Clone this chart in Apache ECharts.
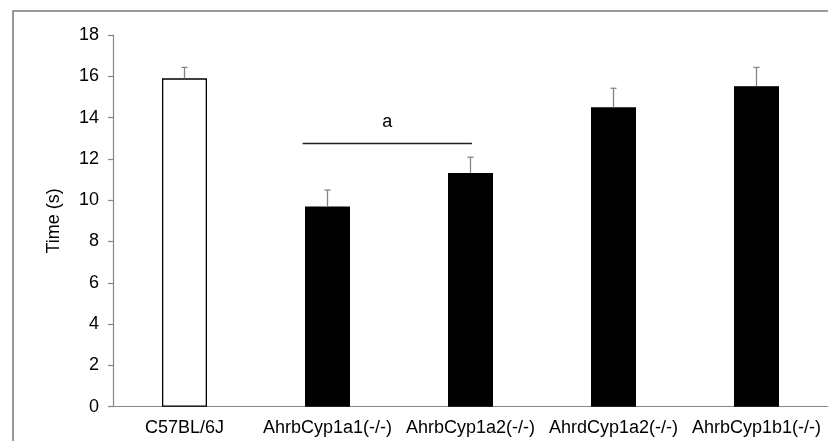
<!DOCTYPE html>
<html>
<head>
<meta charset="utf-8">
<script src="https://cdn.jsdelivr.net/npm/echarts@6/dist/echarts.min.js"></script>
<style>html,body{margin:0;padding:0;background:#fff;}#c{width:828px;height:441px;}</style>
</head>
<body>
<div id="c"></div>
<script>
const categories = ['C57BL/6J', 'AhrbCyp1a1(-/-)', 'AhrbCyp1a2(-/-)', 'AhrdCyp1a2(-/-)', 'AhrbCyp1b1(-/-)'];
const means = [15.9, 9.69, 11.32, 14.5, 15.52];
const errors = [0.53, 0.8, 0.76, 0.92, 0.91];
const barFill = ['#ffffff', '#000000', '#000000', '#000000', '#000000'];
const yTicks = [0, 2, 4, 6, 8, 10, 12, 14, 16, 18];
const annotations = [[1, 2, 12.75, 'a']];

const chart = echarts.init(document.getElementById('c'), null, {renderer: 'canvas'});
const FONT = 'Liberation Sans, Arial, sans-serif';
const AXIS = '#878787';

chart.setOption({
  animation: false,
  backgroundColor: '#fff',
  graphic: [{
    type: 'rect', z: -1,
    shape: {x: 13, y: 11, width: 1000, height: 600},
    style: {fill: 'none', stroke: '#7a7a7a', lineWidth: 1.5}
  }],
  grid: {left: 113, top: 35, width: 722.5, height: 371.7, containLabel: false},
  xAxis: {
    type: 'category',
    data: categories,
    axisLine: {lineStyle: {color: AXIS, width: 1.2}},
    axisTick: {show: false},
    axisLabel: {color: '#000', fontSize: 18, fontFamily: FONT, margin: 12, interval: 0}
  },
  yAxis: {
    type: 'value',
    min: yTicks[0], max: yTicks[yTicks.length - 1], interval: 2,
    name: 'Time (s)',
    nameLocation: 'middle',
    nameGap: 50,
    nameTextStyle: {color: '#000', fontSize: 18, fontFamily: FONT},
    axisLine: {show: true, lineStyle: {color: AXIS, width: 1.2}},
    axisTick: {show: true, length: 5, lineStyle: {color: AXIS, width: 1.2}},
    axisLabel: {color: '#000', fontSize: 18, fontFamily: FONT, margin: 14},
    splitLine: {show: false}
  },
  series: [
    {
      type: 'bar',
      barWidth: 45,
      data: means.map((v, i) => ({
        value: v,
        itemStyle: {color: barFill[i], borderColor: '#000', borderWidth: 1.3}
      })),
      z: 2
    },
    {
      type: 'custom',
      z: 3,
      data: means.map((v, i) => [i, v, v + errors[i]]),
      renderItem: function (params, api) {
        const x = api.coord([api.value(0), api.value(1)])[0];
        const y0 = api.coord([api.value(0), api.value(1)])[1];
        const y1 = api.coord([api.value(0), api.value(2)])[1];
        const st = {stroke: '#858585', lineWidth: 1.3};
        return {
          type: 'group',
          children: [
            {type: 'line', shape: {x1: x, y1: y0, x2: x, y2: y1}, style: st},
            {type: 'line', shape: {x1: x - 3, y1: y1, x2: x + 3, y2: y1}, style: st}
          ]
        };
      }
    },
    {
      type: 'custom',
      z: 4,
      data: annotations,
      renderItem: function (params, api) {
        const band = api.size([1, 0])[0];
        const y = api.coord([api.value(0), api.value(2)])[1];
        const xa = api.coord([api.value(0), api.value(2)])[0] - 0.174 * band;
        const xb = api.coord([api.value(1), api.value(2)])[0] + 0.01 * band;
        return {
          type: 'group',
          children: [
            {type: 'line', shape: {x1: xa, y1: y, x2: xb, y2: y}, style: {stroke: '#222', lineWidth: 1.5}},
            {type: 'text', style: {text: annotations[params.dataIndex][3], x: (xa + xb) / 2, y: y - 21,
              fill: '#000', font: '18px ' + FONT, align: 'center', verticalAlign: 'middle'}}
          ]
        };
      }
    }
  ]
});
</script>
</body>
</html>
